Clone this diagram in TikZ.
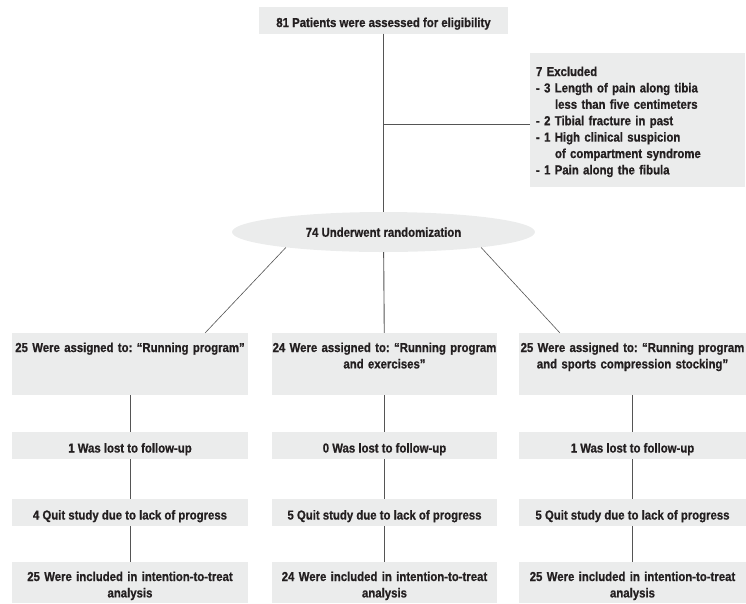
\documentclass[tikz,border=0pt]{standalone}
\usepackage{fontspec}
\setmainfont{Liberation Sans}[FakeStretch=0.875, FakeBold=0.8]
\usetikzlibrary{positioning,calc,shapes.geometric}
\definecolor{BoxGray}{RGB}{235,236,236}
\definecolor{LineGray}{RGB}{85,85,85}
\definecolor{TextDark}{RGB}{35,31,32}
\frenchspacing

\begin{document}
\begin{tikzpicture}[x=1pt, y=-1pt, every node/.style={font=\fontsize{13}{16.4}\selectfont\bfseries, text=TextDark}]
  \tikzset{
    box/.style={fill=BoxGray, inner xsep=0pt},
    onebox/.style={box, minimum height=27pt, text height=14pt, text depth=0pt},
    armbox/.style={box, align=center, inner ysep=9pt, text height=10pt, text depth=34pt},
    ittbox/.style={box, align=center, inner ysep=9pt, text height=10pt, text depth=13pt},
    link/.style={draw=LineGray, line width=0.9pt}
  }
  \useasboundingbox (0,0) rectangle (746,603);
  % screening and exclusions
  \node[onebox, minimum width=249pt] (assess) at (383.5,20) {81 Patients were assessed for eligibility};
  \node[box, align=left, text width=203pt, inner xsep=6pt, inner ysep=9pt, text height=14pt, text depth=102pt] (excl) at (637.5,120)
    {7 Excluded\\- 3 Length of pain along tibia\\\hspace*{19pt}less than five centimeters\\- 2 Tibial fracture in past\\- 1 High clinical suspicion\\\hspace*{19pt}of compartment syndrome\\- 1 Pain along the fibula};
  \node[ellipse, fill=BoxGray, minimum width=303pt, minimum height=40pt, inner sep=0pt, text height=9.5pt, text depth=0pt] (rand) at (383.5,232) {74 Underwent randomization};
  \coordinate (split) at (383.5,124);

  % three arms
  \node[armbox, text width=236pt] (armA) at (130,364) {25 Were assigned to: ``Running program''};
  \node[armbox, text width=225pt] (armB) at (384.5,364) {24 Were assigned to: ``Running program\\and exercises''};
  \node[armbox, text width=227pt] (armC) at (632.5,364) {25 Were assigned to: ``Running program\\and sports compression stocking''};

  \node[onebox, minimum width=236pt] (lostA) at (130,445.5) {1 Was lost to follow-up};
  \node[onebox, minimum width=225pt] (lostB) at (384.5,445.5) {0 Was lost to follow-up};
  \node[onebox, minimum width=227pt] (lostC) at (632.5,445.5) {1 Was lost to follow-up};

  \node[onebox, minimum width=236pt] (quitA) at (130,512.5) {4 Quit study due to lack of progress};
  \node[onebox, minimum width=225pt] (quitB) at (384.5,512.5) {5 Quit study due to lack of progress};
  \node[onebox, minimum width=227pt] (quitC) at (632.5,512.5) {5 Quit study due to lack of progress};

  \node[ittbox, text width=236pt] (ittA) at (130,582.5) {25 Were included in intention-to-treat\\analysis};
  \node[ittbox, text width=225pt] (ittB) at (384.5,582.5) {24 Were included in intention-to-treat\\analysis};
  \node[ittbox, text width=227pt] (ittC) at (632.5,582.5) {25 Were included in intention-to-treat\\analysis};

  % connectors
  \draw[link] (assess) -- (rand);
  \draw[link] (split) -- (split -| excl.west);
  \draw[link, line width=0.6pt] (rand.189) -- ($(armA.north east)+(-43,0)$);
  \draw[link] (rand) -- (armB);
  \draw[link, line width=0.6pt] (rand.351) -- ($(armC.north west)+(41,0)$);
  \draw[link] (armA) -- (lostA) (lostA) -- (quitA) (quitA) -- (ittA);
  \draw[link] (armB) -- (lostB) (lostB) -- (quitB) (quitB) -- (ittB);
  \draw[link] (armC) -- (lostC) (lostC) -- (quitC) (quitC) -- (ittC);
\end{tikzpicture}
\end{document}
